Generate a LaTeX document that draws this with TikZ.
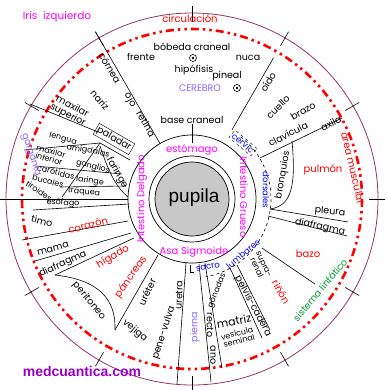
\documentclass[tikz,border=0pt]{standalone}
\usepackage{fontspec}
\setmainfont{Poppins}
\newfontfamily\arialfont{Liberation Sans}
\usetikzlibrary{calc}
\definecolor{irismag}{HTML}{FF00FF}
\definecolor{irisred}{HTML}{FF0000}
\definecolor{irisviolet}{HTML}{8866FF}
\definecolor{irisblue}{HTML}{0000FF}
\definecolor{irisgreen}{HTML}{009933}
\definecolor{rimcol}{HTML}{993366}
\definecolor{webpurple}{HTML}{9900CC}
\definecolor{pupilgray}{HTML}{C8C8C8}

\begin{document}
\begin{tikzpicture}[x=1pt, y=-1pt,
    lbl/.style={font=\fontsize{9.5}{9.5}\selectfont, inner sep=0pt, align=center},
    small/.style={lbl, font=\fontsize{8}{8}\selectfont},
    organ/.style={lbl, text=irisred, font=\fontsize{10}{10}\selectfont},
    spine/.style={lbl, text=irisblue, font=\fontsize{8.5}{8.5}\selectfont},
    bandlbl/.style={lbl, text=irismag, font=\fontsize{10}{10}\selectfont},
    cereb/.style={lbl, text=irisviolet},
    sector/.style={line width=0.6pt},
    rimtick/.style={line width=0.6pt},
    ring/.style={line width=0.7pt},
    glandmark/.style={draw, circle, minimum size=7pt, inner sep=0pt, line width=0.6pt}
  ]
  \useasboundingbox (0,0) rectangle (386,390);
  \coordinate (c) at (192,199);

  % --- rings
  \draw[rimcol, line width=0.8pt] (c) circle (186);
  \draw[irisred, line width=2.6pt,
    dash pattern=on 8pt off 4pt on 2.5pt off 4pt on 2.5pt off 4pt] (c) circle (170);
  \draw[ring] (c) circle (64);
  \draw[ring] (c) circle (43);
  \draw[ring, fill=pupilgray] (c) circle (37);
  \node[font=\arialfont\fontsize{19}{19}\selectfont] (pupila) at (194,198) {pupila};

  % --- ticks on the rim
  \foreach \a in {0,30,...,330}
    \draw[rimtick] ($(c)+(-\a:177)$) -- ($(c)+(-\a:193)$);

  % --- sector lines
  \draw[sector] ($(c)+(-120:64)$) -- ($(c)+(-120:193)$);
  \draw[sector] ($(c)+(180:64)$) -- ($(c)+(180:186)$);
  \draw[sector] ($(c)+(-60:80)$) -- ($(c)+(-60:163)$);
  \draw[sector] (260,158) -- (342,118);
  \draw[sector] (292,141) .. controls (296,185) and (292,206) .. (270,209);
  \draw[sector] (270,209) -- (348,222);
  \draw[sector] (268,216) -- (347,236);
  \draw[sector] (262,248) -- (315,284);

  % spine
  \draw[sector, dashed] ($(c)+(-52:79)$) arc[start angle=-52, end angle=80, radius=79];
  \draw[sector] (190,265) -- (190,272) -- (194,272);

  % left fan
  \draw[sector] (30,104) -- (98,132);
  \draw[sector] (24,150) -- (100,143);
  \draw[sector] (100,143) -- (62,197);
  \draw[sector] (100,143) -- (130,160);
  \draw[sector] (35,166) -- (122,174);
  \draw[sector] (60,187) -- (126,186);
  \draw[sector] (33,210) -- (129,204);
  \draw[sector] (100,146) .. controls (108,170) and (115,186) .. (128,197);

  % left lower
  \draw[sector] (22,240) -- (128,221);
  \draw[sector] (35,261) -- (131,233);
  \draw[sector] (55,275) -- (134,238);
  \draw[sector] (55,275) .. controls (100,280) and (116,300) .. (115,330);
  \draw[sector] (115,330) -- (158,255);

  % bottom
  \draw[sector] (186,263) -- (177,384);
  \draw[sector] (199,264) -- (211,382);
  \draw[sector] (205,263) -- (222,368);
  \draw[sector] (230,268) -- (262,338);
  \draw[sector] (237,265) -- (270,330);

  % --- top sector
  \node[organ] (circ) at (190,19) {circulación};
  \node[lbl] (frente) at (141,57) {frente};
  \node[lbl] (boveda) at (192,47) {bóbeda craneal};
  \node[glandmark] (hipmark) at (193,58) {};
  \fill (hipmark.center) circle (1.3);
  \node[lbl] (hipofisis) at (194,70) {hipófisis};
  \node[lbl] (nuca) at (248,58) {nuca};
  \node[lbl] (pineal) at (227,76) {pineal};
  \node[glandmark] (pinmark) at (237,88) {};
  \fill (pinmark.center) circle (1.3);
  \node[cereb] (cerebro) at (200,88) {CEREBRO};
  \node[lbl] (basecran) at (192,120) {base craneal};
  \coordinate (estotop) at (192,143);
  \draw[sector] (basecran.south) -- (estotop);

  \node[lbl, rotate=-60] (cornea) at (110,68) {córnea};
  \node[lbl, rotate=-60] (ojo) at (130,100) {ojo};
  \node[lbl, rotate=-60] (retina) at (146,124) {retina};
  \node[lbl, rotate=60] (oido) at (268,82) {oído};

  % --- right side
  \node[lbl, rotate=45] (cuello) at (278,107) {cuello};
  \node[lbl, rotate=30] (brazo) at (303,111) {brazo};
  \node[lbl, rotate=27] (clavicula) at (288,134) {clavícula};
  \node[lbl, rotate=27] (axila) at (331,123) {axila};
  \node[lbl, rotate=80] (bronquios) at (283,175) {bronquios};
  \node[organ] (pulmon) at (323,170) {pulmón};
  \node[organ, rotate=-77] (muscular) at (353,168) {área muscular};
  \node[lbl, rotate=-5] (pleura) at (330,212) {pleura};
  \node[lbl, rotate=-12] (diafder) at (320,227) {diafragma};
  \node[organ] (bazo) at (308,254) {bazo};
  \node[lbl, text=irisgreen, rotate=50] (linfa) at (320,290) {sistema linfático};
  \node[organ, rotate=-60] (rinon) at (281,292) {riñón};
  \node[small, rotate=-65] (suprarenal) at (260,266) {supra-\\renal};
  \node[lbl, rotate=-62] (pelvis) at (253,306) {pelvis-cadera};
  \node[small, rotate=68] (gonadas) at (217,291) {gónadas};
  \node[lbl, rotate=10, font=\fontsize{11}{11}\selectfont] (matriz) at (234,321) {matriz};
  \node[small, rotate=15] (vesicula) at (238,337) {vesícula\\seminal};
  \node[lbl, rotate=-90] (recto) at (210,325) {recto};
  \node[lbl, rotate=-90] (ano) at (213,355) {ano};

  % --- bottom and left
  \node[cereb, rotate=90] (pierna) at (195,327) {pierna};
  \node[lbl, rotate=88] (uretra) at (179,295) {uretra};
  \node[lbl, rotate=72] (penevulva) at (164,333) {pene-vulva};
  \node[lbl, rotate=65] (ureter) at (147,292) {uréter};
  \node[lbl, rotate=-40] (vejiga) at (135,331) {vejiga};
  \node[organ, rotate=55] (pancreas) at (131,277) {páncreas};
  \node[lbl, rotate=-50] (peritoneo) at (89,301) {peritoneo};
  \node[organ, rotate=30] (higado) at (113,257) {hígado};
  \node[lbl, rotate=25] (diafizq) at (63,264) {diafragma};
  \node[lbl, rotate=15] (mama) at (53,249) {mama};
  \node[organ, rotate=15] (corazon) at (88,225) {corazón};
  \node[lbl, rotate=-15] (timo) at (42,221) {timo};
  \node[small, rotate=-3] (esofago) at (63,203) {esófago};
  \node[small, rotate=-5] (traquea) at (84,192) {tráquea};
  \node[small, rotate=-8] (laringe) at (90,181) {laringe};
  \node[small, rotate=-35] (tiroides) at (39,191) {tiroides};
  \node[small, rotate=-15] (bucales) at (48,181) {bucales};
  \node[small, rotate=-15] (carotidas) at (56,172) {carótidas};
  \node[small, rotate=-15] (ganglios) at (93,167) {ganglios};
  \node[small, rotate=-10] (amigdalas) at (88,151) {amígdalas};
  \node[small, rotate=-15] (maxinf) at (50,155) {maxilar\\inferior};
  \node[small, rotate=-15] (lengua) at (63,139) {lengua};
  \node[lbl, rotate=-60] (faringe) at (117,173) {faringe};
  \node[lbl, draw, rotate=-30, inner sep=1.5pt] (paladar) at (114,139) {paladar};
  \node[lbl, rotate=-28] (maxsup) at (70,111) {maxilar\\superior};
  \node[lbl, rotate=-50] (nariz) at (100,100) {nariz};
  \node[cereb, rotate=-72] (garganta) at (31,155) {garganta};

  % --- collarette band
  \node[bandlbl] (estomago) at (192,150) {estómago};
  \node[bandlbl, rotate=90] (delgado) at (142,199) {Intestino Delgado};
  \node[bandlbl, rotate=-90] (grueso) at (244,197) {Intestino Grueso};
  \node[bandlbl] (sigmoide) at (194,252) {Asa Sigmoide};

  % --- spine
  \node[spine, draw, dashed, rotate=-40, inner sep=1.5pt] (cervic) at (243,143) {cervic};
  \node[spine, rotate=-90] (dorsales) at (266,190) {dorsales};
  \node[spine, rotate=40] (lumbares) at (243,254) {lumbares};
  \node[spine, rotate=10] (sacro) at (208,267) {sacro};

  % --- captions
  \node[lbl, text=irismag, font=\fontsize{10.5}{10.5}\selectfont] (title) at (57,17) {Iris\ \ izquierdo};
  \node[font=\arialfont\bfseries\fontsize{14}{14}\selectfont, text=webpurple, inner sep=0pt] (web) at (82,371) {medcuantica.com};
\end{tikzpicture}
\end{document}
